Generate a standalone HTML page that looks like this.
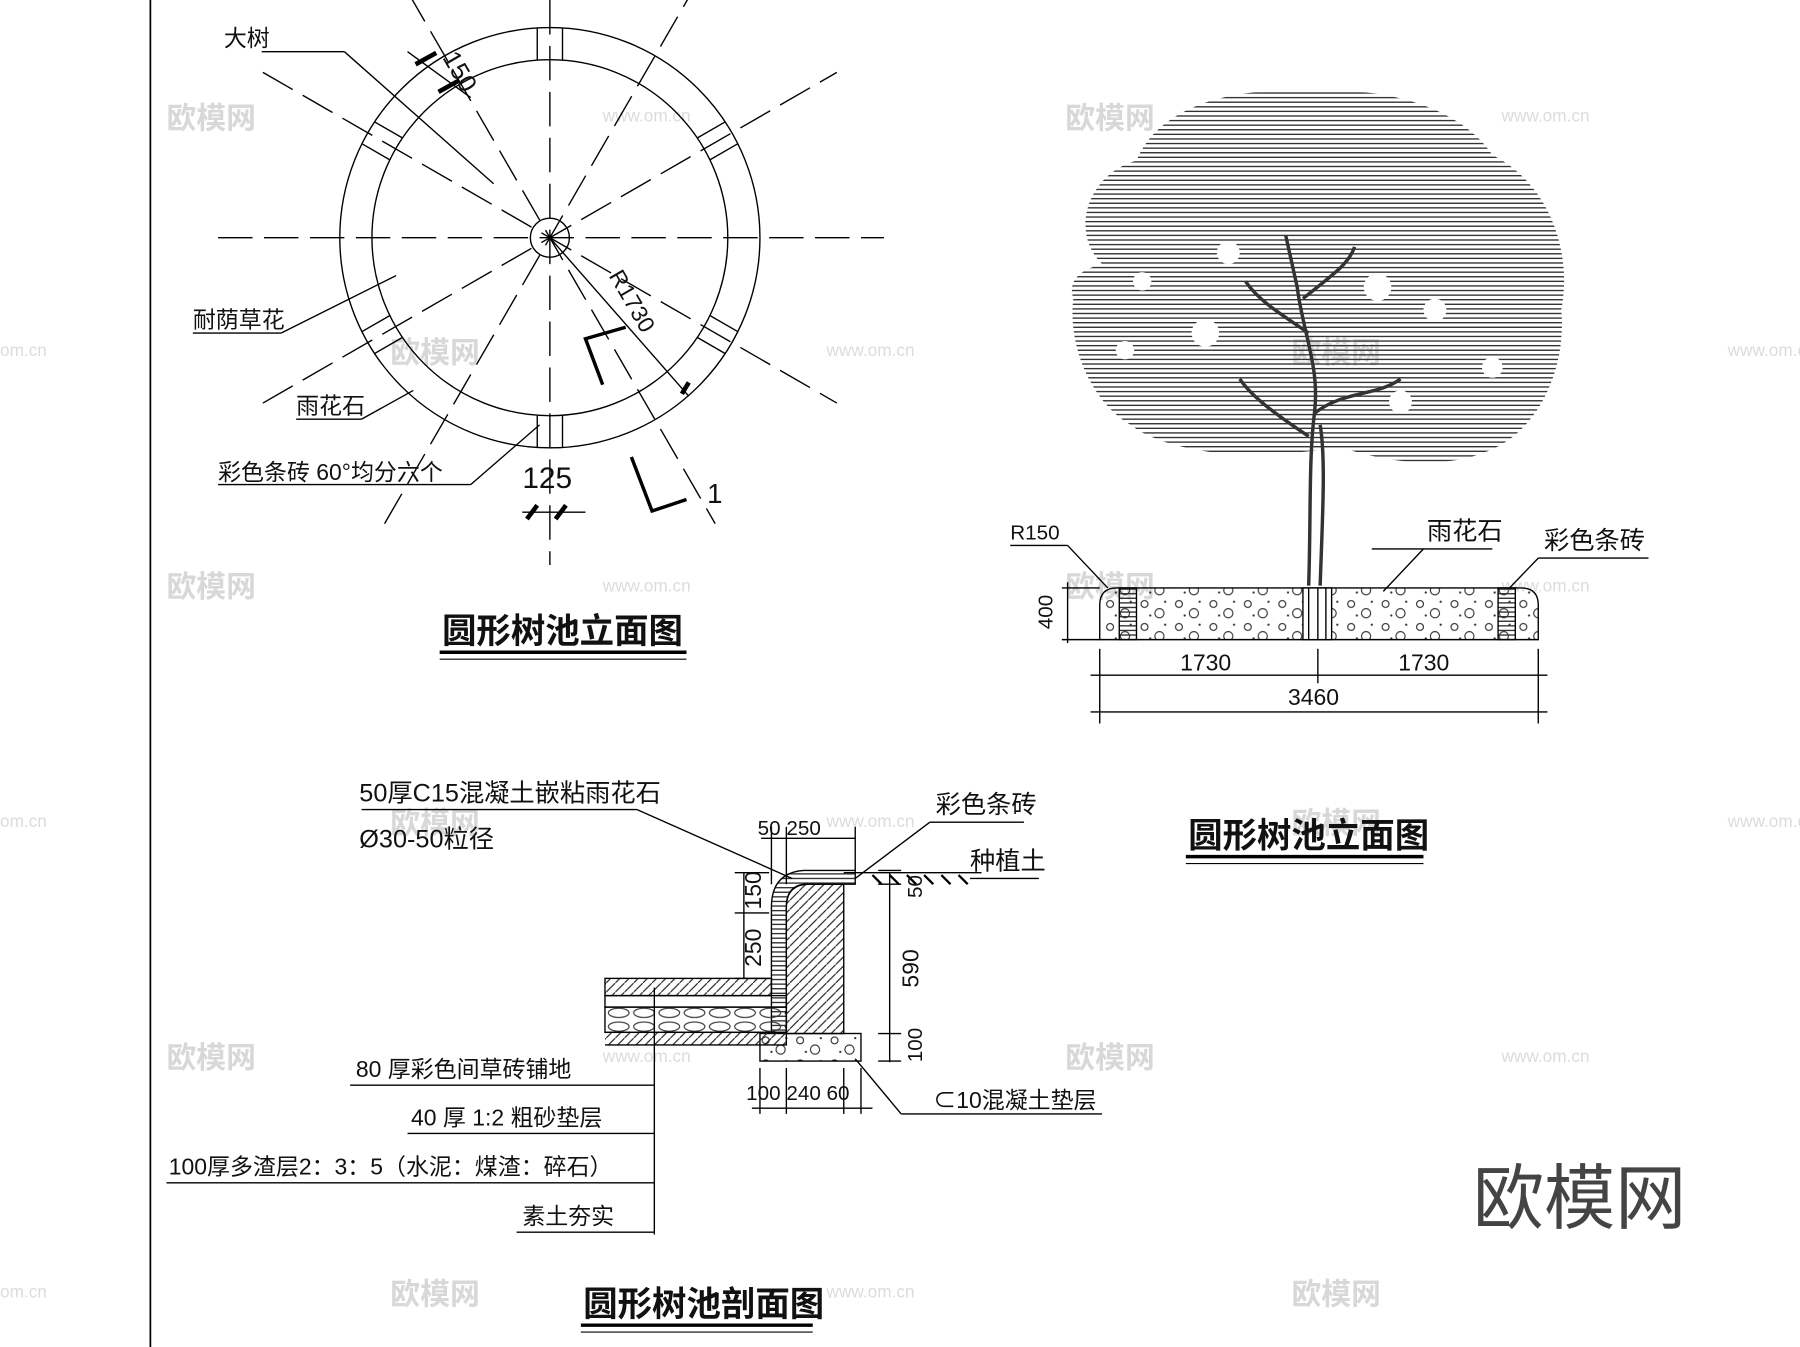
<!DOCTYPE html>
<html><head><meta charset="utf-8"><style>
html,body{margin:0;padding:0;background:#fff;}
svg{display:block;}
text{font-family:"Liberation Sans","Noto Sans CJK SC",sans-serif;fill:#111;}
.wm{fill:#d8d8d8;font-size:26px;font-weight:bold;}
.wu{fill:#dcdcdc;font-size:15px;}
</style></head><body>
<svg width="1800" height="1347" viewBox="0 0 1568 1173" preserveAspectRatio="none" xmlns="http://www.w3.org/2000/svg">
<defs>
<pattern id="hl" width="6" height="4" patternUnits="userSpaceOnUse"><line x1="0" y1="1" x2="6" y2="1" stroke="#333" stroke-width="1.2"/></pattern>
<pattern id="hatch" width="8" height="8" patternUnits="userSpaceOnUse"><line x1="0" y1="8" x2="8" y2="0" stroke="#222" stroke-width="1"/></pattern>
<pattern id="dots" width="30" height="20" patternUnits="userSpaceOnUse"><circle cx="7" cy="6" r="3" fill="none" stroke="#333"/><circle cx="20" cy="14" r="4" fill="none" stroke="#333"/><circle cx="25" cy="4" r="1" fill="#333"/><circle cx="12" cy="16" r="1" fill="#333"/></pattern>
<pattern id="hex" width="22" height="12" patternUnits="userSpaceOnUse"><ellipse cx="11" cy="6" rx="9" ry="4" fill="none" stroke="#333"/></pattern>
</defs>
<rect width="1568" height="1173" fill="#fff"/>
<line x1="131" y1="0" x2="131" y2="1173" stroke="#000" stroke-width="1.5"/>

<!-- watermarks -->
<g>
<text class="wm" x="145" y="112">欧模网</text><text class="wm" x="928" y="112">欧模网</text>
<text class="wu" x="525" y="106">www.om.cn</text><text class="wu" x="1308" y="106">www.om.cn</text>
<text class="wm" x="340" y="316">欧模网</text><text class="wm" x="1125" y="316">欧模网</text>
<text class="wu" x="0" y="310">om.cn</text><text class="wu" x="720" y="310">www.om.cn</text><text class="wu" x="1505" y="310">www.om.cn</text>
<text class="wm" x="145" y="520">欧模网</text><text class="wm" x="928" y="520">欧模网</text>
<text class="wu" x="525" y="515">www.om.cn</text><text class="wu" x="1308" y="515">www.om.cn</text>
<text class="wm" x="340" y="726">欧模网</text><text class="wm" x="1125" y="726">欧模网</text>
<text class="wu" x="0" y="720">om.cn</text><text class="wu" x="720" y="720">www.om.cn</text><text class="wu" x="1505" y="720">www.om.cn</text>
<text class="wm" x="145" y="930">欧模网</text><text class="wm" x="928" y="930">欧模网</text>
<text class="wu" x="525" y="925">www.om.cn</text><text class="wu" x="1308" y="925">www.om.cn</text>
<text class="wm" x="340" y="1136">欧模网</text><text class="wm" x="1125" y="1136">欧模网</text>
<text class="wu" x="0" y="1130">om.cn</text><text class="wu" x="720" y="1130">www.om.cn</text>
</g>

<!-- plan circle -->
<g stroke="#000" fill="none" stroke-width="1.2">
<line x1="190" y1="207" x2="770" y2="207" stroke-dasharray="30,10"/>
<line x1="479" y1="0" x2="479" y2="492" stroke-dasharray="30,10"/>
<line x1="229" y1="63" x2="729" y2="351" stroke-dasharray="30,10"/>
<line x1="229" y1="351" x2="729" y2="63" stroke-dasharray="30,10"/>
<line x1="335" y1="-42" x2="623" y2="456" stroke-dasharray="30,10"/>
<line x1="335" y1="456" x2="623" y2="-42" stroke-dasharray="30,10"/>
<circle cx="479" cy="207" r="183"/>
<circle cx="479" cy="207" r="155"/>
<circle cx="479" cy="207" r="17"/>
<g transform="translate(479 207)">
<g id="br"><line x1="-11" y1="-155" x2="-11" y2="-183"/><line x1="11" y1="-155" x2="11" y2="-183"/></g>
<use href="#br" transform="rotate(60)"/><use href="#br" transform="rotate(120)"/><use href="#br" transform="rotate(180)"/><use href="#br" transform="rotate(240)"/><use href="#br" transform="rotate(300)"/>
</g>
<line x1="479" y1="207" x2="600" y2="345"/>
<line x1="228" y1="45" x2="300" y2="45"/><line x1="300" y1="45" x2="430" y2="160"/>
<line x1="168" y1="290" x2="245" y2="290"/><line x1="245" y1="290" x2="345" y2="240"/>
<line x1="258" y1="365" x2="315" y2="365"/><line x1="315" y1="365" x2="360" y2="340"/>
<line x1="190" y1="422" x2="410" y2="422"/><line x1="410" y1="422" x2="470" y2="370"/>
<line x1="355" y1="45" x2="410" y2="85"/>
<line x1="455" y1="446" x2="510" y2="446"/>
<polyline points="545,285 510,295 525,335" stroke-width="3"/>
<polyline points="550,398 568,445 598,435" stroke-width="3"/>
</g>
<g stroke="#000" stroke-width="4"><line x1="362" y1="56" x2="380" y2="46"/><line x1="382" y1="80" x2="400" y2="70"/><line x1="459" y1="452" x2="468" y2="440"/><line x1="484" y1="452" x2="493" y2="440"/><line x1="594" y1="343" x2="600" y2="333"/></g>
<text x="195" y="40" font-size="20">大树</text>
<text x="168" y="285" font-size="20">耐荫草花</text>
<text x="258" y="360" font-size="20">雨花石</text>
<text x="190" y="418" font-size="20">彩色条砖 60°均分六个</text>
<text x="455" y="425" font-size="26">125</text>
<text x="616" y="438" font-size="24" font-family="Liberation Serif">1</text>
<text font-size="22" transform="translate(385 50) rotate(60)">150</text>
<text font-size="20" transform="translate(530 240) rotate(60)">R1730</text>
<text x="385" y="560" font-size="30" font-weight="bold">圆形树池立面图</text>
<line x1="383" y1="568" x2="598" y2="568" stroke="#000" stroke-width="3"/>
<line x1="383" y1="574" x2="598" y2="574" stroke="#000" stroke-width="1"/>

<!-- tree -->
<path d="M960,230 C930,200 950,150 990,140 C1010,90 1080,75 1140,80 C1200,75 1270,90 1300,135 C1350,160 1370,220 1360,270 C1365,320 1340,380 1290,395 C1250,410 1200,400 1170,390 L1120,395 C1070,400 1010,390 985,370 C950,350 930,300 935,260 C930,245 940,235 960,230 Z" fill="url(#hl)"/>
<g fill="#fff"><circle cx="1070" cy="220" r="10"/><circle cx="995" cy="245" r="8"/><circle cx="1200" cy="250" r="12"/><circle cx="1250" cy="270" r="10"/><circle cx="1050" cy="290" r="12"/><circle cx="980" cy="305" r="8"/><circle cx="1300" cy="320" r="9"/><circle cx="1220" cy="350" r="10"/></g>
<g stroke="#333" fill="none" stroke-width="3">
<path d="M1140,510 C1142,450 1140,400 1145,360 C1150,320 1135,290 1130,250 L1120,205"/>
<path d="M1145,360 C1170,340 1200,345 1220,330"/>
<path d="M1140,380 C1110,360 1090,345 1080,330"/>
<path d="M1140,290 C1110,270 1095,260 1085,245"/>
<path d="M1135,260 C1160,240 1175,230 1180,215"/>
<path d="M1150,510 C1152,450 1155,400 1150,370"/>
</g>
<!-- elevation base -->
<g stroke="#000" fill="none" stroke-width="1.2">
<path d="M973,512 L1325,512 Q1340,512 1340,527 L1340,557 L958,557 L958,527 Q958,512 973,512 Z" fill="url(#dots)"/>
<rect x="975" y="512" width="15" height="45" fill="url(#hl)"/>
<rect x="1305" y="512" width="15" height="45" fill="url(#hl)"/>
<rect x="1135" y="512" width="25" height="45" fill="#fff"/>
<line x1="1140" y1="512" x2="1140" y2="557"/><line x1="1148" y1="512" x2="1148" y2="557"/><line x1="1155" y1="512" x2="1155" y2="557"/>
<line x1="880" y1="475" x2="930" y2="475"/><line x1="930" y1="475" x2="965" y2="512"/>
<line x1="1195" y1="478" x2="1300" y2="478"/><line x1="1240" y1="478" x2="1205" y2="515"/>
<line x1="1340" y1="486" x2="1436" y2="486"/><line x1="1340" y1="486" x2="1315" y2="512"/>
<line x1="930" y1="507" x2="930" y2="560"/><line x1="925" y1="512" x2="958" y2="512"/><line x1="925" y1="557" x2="958" y2="557"/>
<line x1="958" y1="565" x2="958" y2="630"/><line x1="1148" y1="565" x2="1148" y2="595"/><line x1="1340" y1="565" x2="1340" y2="630"/>
<line x1="950" y1="588" x2="1348" y2="588"/><line x1="950" y1="620" x2="1348" y2="620"/>
</g>
<text x="880" y="470" font-size="18">R150</text>
<text x="1243" y="470" font-size="22">雨花石</text>
<text x="1345" y="478" font-size="22">彩色条砖</text>
<text font-size="18" transform="translate(917 548) rotate(-90)">400</text>
<text x="1028" y="584" font-size="20">1730</text>
<text x="1218" y="584" font-size="20">1730</text>
<text x="1122" y="614" font-size="20">3460</text>
<text x="1035" y="738" font-size="30" font-weight="bold">圆形树池立面图</text>
<line x1="1033" y1="746" x2="1240" y2="746" stroke="#000" stroke-width="3"/>
<line x1="1033" y1="752" x2="1240" y2="752" stroke="#000" stroke-width="1"/>

<!-- section -->
<g stroke="#000" fill="none" stroke-width="1.2">
<path d="M685,900 L685,790 Q685,770 705,770 L735,770 L735,900 Z" fill="url(#hatch)"/>
<path d="M672,900 L672,790 Q672,760 700,758 L745,758 L745,770 L700,770 Q685,772 685,790 L685,900" fill="url(#hl)"/>
<rect x="662" y="900" width="88" height="24" fill="url(#dots)"/>
<rect x="527" y="852" width="145" height="15" fill="url(#hatch)"/>
<rect x="527" y="867" width="158" height="10"/>
<rect x="527" y="877" width="158" height="22" fill="url(#hex)"/>
<path d="M527,899 L685,899 L685,910 L527,910" fill="url(#hatch)"/>
<line x1="735" y1="760" x2="855" y2="760"/>
<line x1="570" y1="860" x2="570" y2="1075"/>
<line x1="305" y1="945" x2="570" y2="945"/><line x1="355" y1="987" x2="570" y2="987"/><line x1="145" y1="1030" x2="570" y2="1030"/><line x1="450" y1="1073" x2="570" y2="1073"/>
<line x1="315" y1="705" x2="555" y2="705"/><line x1="555" y1="705" x2="690" y2="765"/>
<line x1="810" y1="716" x2="892" y2="716"/><line x1="810" y1="716" x2="745" y2="765"/>
<line x1="845" y1="765" x2="905" y2="765"/>
<line x1="785" y1="970" x2="960" y2="970"/><line x1="785" y1="970" x2="745" y2="922"/>
<line x1="663" y1="730" x2="745" y2="730"/><line x1="672" y1="720" x2="672" y2="770"/><line x1="685" y1="720" x2="685" y2="770"/><line x1="745" y1="720" x2="745" y2="758"/>
<line x1="648" y1="760" x2="648" y2="852"/><line x1="640" y1="760" x2="670" y2="760"/><line x1="640" y1="795" x2="670" y2="795"/><line x1="640" y1="852" x2="670" y2="852"/>
<line x1="775" y1="760" x2="775" y2="925"/><line x1="765" y1="758" x2="785" y2="758"/><line x1="765" y1="770" x2="785" y2="770"/><line x1="765" y1="900" x2="785" y2="900"/><line x1="765" y1="924" x2="785" y2="924"/>
<line x1="655" y1="965" x2="760" y2="965"/><line x1="662" y1="930" x2="662" y2="970"/><line x1="685" y1="930" x2="685" y2="970"/><line x1="735" y1="930" x2="735" y2="970"/><line x1="750" y1="930" x2="750" y2="970"/>
</g>
<g stroke="#000" stroke-width="2"><path d="M760,762 l8,8 M775,762 l8,8 M790,762 l8,8 M805,762 l8,8 M820,762 l8,8 M835,762 l8,8"/></g>
<text x="313" y="698" font-size="22">50厚C15混凝土嵌粘雨花石</text>
<text x="313" y="738" font-size="22">Ø30-50粒径</text>
<text x="815" y="708" font-size="22">彩色条砖</text>
<text x="845" y="757" font-size="22">种植土</text>
<text x="660" y="727" font-size="18">50 250</text>
<text font-size="18" transform="translate(803 782) rotate(-90)">50</text>
<text font-size="20" transform="translate(800 860) rotate(-90)">590</text>
<text font-size="18" transform="translate(803 925) rotate(-90)">100</text>
<text font-size="20" transform="translate(663 792) rotate(-90)">150</text>
<text font-size="20" transform="translate(663 842) rotate(-90)">250</text>
<text x="650" y="958" font-size="18">100 240 60</text>
<text x="813" y="965" font-size="20">⊂10混凝土垫层</text>
<text x="310" y="938" font-size="20">80 厚彩色间草砖铺地</text>
<text x="358" y="980" font-size="20">40 厚 1:2 粗砂垫层</text>
<text x="147" y="1023" font-size="20">100厚多渣层2：3：5（水泥：煤渣：碎石）</text>
<text x="455" y="1066" font-size="20">素土夯实</text>
<text x="508" y="1146" font-size="30" font-weight="bold">圆形树池剖面图</text>
<line x1="506" y1="1154" x2="708" y2="1154" stroke="#000" stroke-width="3"/>
<line x1="506" y1="1160" x2="708" y2="1160" stroke="#000" stroke-width="1"/>

<text x="1283" y="1065" font-size="62" style="fill:#444">欧模网</text>
</svg>
</body></html>
